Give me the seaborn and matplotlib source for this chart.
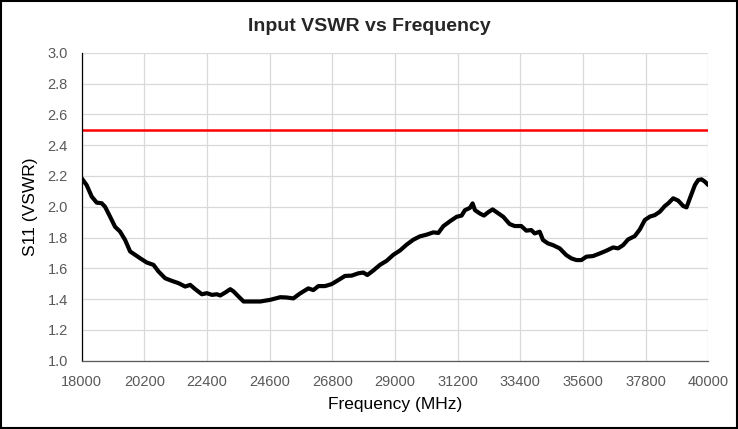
"""
Input VSWR vs Frequency chart
"""

import matplotlib.pyplot as plt
import seaborn as sns
import pandas as pd
from matplotlib.patches import Rectangle

# Frequency points (MHz)
freq_mhz = [18000, 18176, 18352, 18527, 18703, 18820, 18996, 19172, 19347, 19523,
            19700, 19875, 20050, 20285, 20520, 20696, 20930, 21165, 21400, 21634,
            21810, 21985, 22220, 22395, 22571, 22747, 22864, 23040, 23216, 23333,
            23509, 23685, 23919, 24270, 24622, 24974, 25197, 25431, 25665, 25957,
            26133, 26309, 26543, 26777, 27011, 27245, 27479, 27713, 27888, 28029,
            28239, 28473, 28707, 28941, 29175, 29409, 29643, 29878, 30112, 30346,
            30521, 30697, 30931, 31165, 31340, 31457, 31633, 31726, 31808, 31984,
            32124, 32276, 32428, 32568, 32802, 33025, 33201, 33435, 33611, 33787,
            33904, 34080, 34197, 34373, 34549, 34783, 35017, 35193, 35369, 35545,
            35721, 35955, 36190, 36424, 36659, 36835, 37010, 37186, 37421, 37597,
            37772, 37948, 38124, 38300, 38476, 38593, 38769, 38945, 39120, 39237,
            39355, 39531, 39648, 39765, 39883, 40000]

# Measured VSWR
vswr = [2.185, 2.14, 2.066, 2.027, 2.023, 2.0, 1.936, 1.87, 1.839, 1.785,
        1.71, 1.688, 1.666, 1.638, 1.623, 1.58, 1.536, 1.519, 1.504, 1.482,
        1.493, 1.465, 1.432, 1.439, 1.428, 1.432, 1.424, 1.443, 1.465, 1.45,
        1.417, 1.385, 1.385, 1.385, 1.396, 1.413, 1.411, 1.405, 1.437, 1.47,
        1.459, 1.485, 1.485, 1.498, 1.524, 1.551, 1.553, 1.568, 1.573, 1.557,
        1.586, 1.623, 1.649, 1.688, 1.716, 1.754, 1.786, 1.808, 1.819, 1.834,
        1.83, 1.874, 1.906, 1.935, 1.943, 1.978, 1.993, 2.022, 1.978, 1.956,
        1.943, 1.965, 1.983, 1.965, 1.935, 1.888, 1.875, 1.875, 1.845, 1.849,
        1.827, 1.838, 1.784, 1.762, 1.751, 1.73, 1.686, 1.665, 1.654, 1.654,
        1.676, 1.68, 1.697, 1.715, 1.736, 1.73, 1.751, 1.788, 1.81, 1.853,
        1.914, 1.936, 1.946, 1.968, 2.005, 2.022, 2.055, 2.04, 2.005, 1.996,
        2.055, 2.141, 2.174, 2.178, 2.163, 2.141]

vswr_limit = 2.5
x_ticks = [18000, 20200, 22400, 24600, 26800, 29000, 31200, 33400, 35600, 37800, 40000]
y_ticks = [1.0, 1.2, 1.4, 1.6, 1.8, 2.0, 2.2, 2.4, 2.6, 2.8, 3.0]

sns.set_style("white")
plt.rcParams['font.family'] = ['Liberation Sans', 'DejaVu Sans']

df = pd.DataFrame({'Frequency': freq_mhz, 'VSWR': vswr})

fig = plt.figure(figsize=(7.38, 4.29), dpi=100)
ax = fig.add_axes([0.1107, 0.159, 0.849, 0.718])

sns.lineplot(data=df, x='Frequency', y='VSWR', ax=ax, color='black', linewidth=3.0)
ax.axhline(vswr_limit, color='#ff0000', linewidth=1.8)

ax.set_xlim(x_ticks[0], x_ticks[-1])
ax.set_ylim(y_ticks[0], y_ticks[-1])
ax.set_xticks(x_ticks)
ax.set_yticks(y_ticks)
ax.set_yticklabels([f"{v:.1f}" for v in y_ticks])
ax.tick_params(axis='both', labelsize=10.5, colors='#595959', length=0)
ax.tick_params(axis='x', pad=10)
ax.tick_params(axis='y', pad=10)
ax.grid(True, color='#d9d9d9', linewidth=0.9)
ax.set_axisbelow(True)

for side in ['top', 'right']:
    ax.spines[side].set_visible(False)
ax.spines['left'].set_color('black')
ax.spines['left'].set_linewidth(0.9)
ax.spines['bottom'].set_color('#595959')
ax.spines['bottom'].set_linewidth(0.9)

ax.set_xlabel('Frequency (MHz)', fontsize=12.5, color='black', labelpad=6)
ax.set_ylabel('S11 (VSWR)', fontsize=12.5, color='black', labelpad=7)
fig.text(0.5, 0.938, 'Input VSWR vs Frequency', ha='center', va='center',
         fontsize=14, fontweight='bold')

# outer chart border
fig.patches.append(Rectangle((0.002, 0.003), 0.996, 0.994, transform=fig.transFigure,
                             fill=False, edgecolor='black', linewidth=1.5))

plt.savefig('out.png', dpi=100)
